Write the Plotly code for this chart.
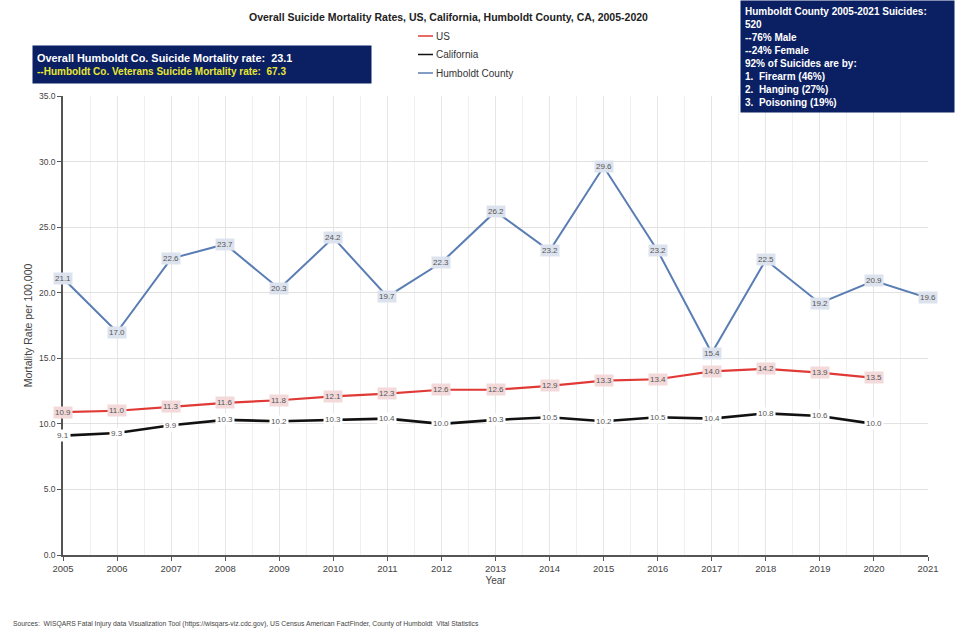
import plotly.graph_objects as go

# Age-adjusted suicide mortality rates per 100,000
years = list(range(2005, 2022))
us_years = list(range(2005, 2021))
us_rates = [10.9, 11.0, 11.3, 11.6, 11.8, 12.1, 12.3, 12.6, 12.6, 12.9, 13.3, 13.4, 14.0, 14.2, 13.9, 13.5]
ca_years = list(range(2005, 2021))
ca_rates = [9.1, 9.3, 9.9, 10.3, 10.2, 10.3, 10.4, 10.0, 10.3, 10.5, 10.2, 10.5, 10.4, 10.8, 10.6, 10.0]
hc_years = list(range(2005, 2022))
hc_rates = [21.1, 17.0, 22.6, 23.7, 20.3, 24.2, 19.7, 22.3, 26.2, 23.2, 29.6, 23.2, 15.4, 22.5, 19.2, 20.9, 19.6]

series = [
    ("US", us_years, us_rates, "#e03a36", 2.2, "#f3d9d9"),
    ("California", ca_years, ca_rates, "#111111", 2.6, "#ffffff"),
    ("Humboldt County", hc_years, hc_rates, "#5a7db3", 2.0, "#dde3ee"),
]

title_text = "Overall Suicide Mortality Rates, US, California, Humboldt County, CA, 2005-2020"
left_box = ("<span style='font-size:10.9px'>Overall Humboldt Co. Suicide Mortality rate:  23.1</span><br>"
            "<span style='color:#e8e832'>--Humboldt Co. Veterans Suicide Mortality rate:  67.3</span>")
right_box = ("Humboldt County 2005-2021 Suicides:<br>520<br>--76% Male<br>--24% Female<br>"
             "92% of Suicides are by:<br>1.  Firearm (46%)<br>2.  Hanging (27%)<br>3.  Poisoning (19%)")
source_text = ("Sources:  WISQARS Fatal Injury data Visualization Tool (https://wisqars-viz.cdc.gov), "
               "US Census American FactFinder, County of Humboldt  Vital Statistics")

FONT = "Liberation Sans, Arial, sans-serif"
W, H = 956, 632
ML, MR, MT, MB = 63, 28, 96, 77
PW, PH = W - ML - MR, H - MT - MB


def px(x):
    return (x - ML) / PW


def py(y):
    return (H - MB - y) / PH


fig = go.Figure()
annotations = []
shapes = []

for name, xs, ys, color, width, bg in series:
    fig.add_trace(go.Scatter(x=xs, y=ys, mode="lines", name=name,
                             line=dict(color=color, width=width), showlegend=False,
                             hoverinfo="x+y"))
    for x, y in zip(xs, ys):
        annotations.append(dict(x=x, y=y, xref="x", yref="y", text=f"{y:.1f}",
                                showarrow=False, bgcolor=bg, borderpad=1,
                                font=dict(family=FONT, size=8, color="#555555")))

# Legend drawn as short line samples with labels
for i, (name, _, _, color, width, _) in enumerate(series):
    yy = 36 + i * 18.5
    shapes.append(dict(type="line", xref="paper", yref="paper",
                       x0=px(418), x1=px(433), y0=py(yy), y1=py(yy),
                       line=dict(color=color, width=1.5)))
    annotations.append(dict(x=px(434), y=py(yy), xref="paper", yref="paper", text=name,
                            showarrow=False, xanchor="left", yanchor="middle",
                            font=dict(family=FONT, size=10, color="#333333")))

annotations += [
    dict(x=px(448), y=py(17), xref="paper", yref="paper", text=f"<b>{title_text}</b>",
         showarrow=False, xanchor="center", yanchor="middle",
         font=dict(family=FONT, size=10.5, color="#222222")),
    dict(x=px(32), y=py(45), xref="paper", yref="paper", text=f"<b>{left_box}</b>",
         showarrow=False, xanchor="left", yanchor="top", align="left", valign="middle",
         width=330, height=29, borderpad=4, bgcolor="#0b1f63",
         font=dict(family=FONT, size=10, color="#ffffff")),
    dict(x=px(740), y=py(0), xref="paper", yref="paper", text=f"<b>{right_box}</b>",
         showarrow=False, xanchor="left", yanchor="top", align="left", valign="bottom",
         width=205, height=103, borderpad=4, bgcolor="#0b1f63",
         font=dict(family=FONT, size=10, color="#ffffff")),
    dict(x=px(11), y=py(624), xref="paper", yref="paper", text=source_text,
         showarrow=False, xanchor="left", yanchor="middle",
         font=dict(family=FONT, size=6.8, color="#444444")),
]

fig.update_layout(
    width=W, height=H,
    margin=dict(l=ML, r=MR, t=MT, b=MB),
    paper_bgcolor="white", plot_bgcolor="white",
    font=dict(family=FONT, size=8, color="#444444"),
    annotations=annotations, shapes=shapes,
    xaxis=dict(range=[2005, 2021], tickmode="array", tickvals=years,
               showgrid=True, gridcolor="#e6e6e6", gridwidth=1,
               minor=dict(dtick=0.5, tick0=2005, showgrid=True, gridcolor="#f0f0f0"),
               showline=True, linecolor="#555555", linewidth=1.5,
               ticks="outside", ticklen=4, tickcolor="#555555",
               zeroline=False,
               title=dict(text="Year", font=dict(family=FONT, size=10, color="#444444"), standoff=4),
               tickfont=dict(family=FONT, size=9.5, color="#444444")),
    yaxis=dict(range=[0, 35], dtick=5, tick0=0, tickformat=".1f",
               showgrid=True, gridcolor="#e2e2e2", gridwidth=1,
               showline=True, linecolor="#555555", linewidth=1.5,
               ticks="outside", ticklen=4, tickcolor="#555555",
               zeroline=False,
               title=dict(text="Mortality Rate per 100,000", font=dict(family=FONT, size=10.5, color="#444444"), standoff=4),
               tickfont=dict(family=FONT, size=8.5, color="#444444")),
)

fig.write_html("out.html")
